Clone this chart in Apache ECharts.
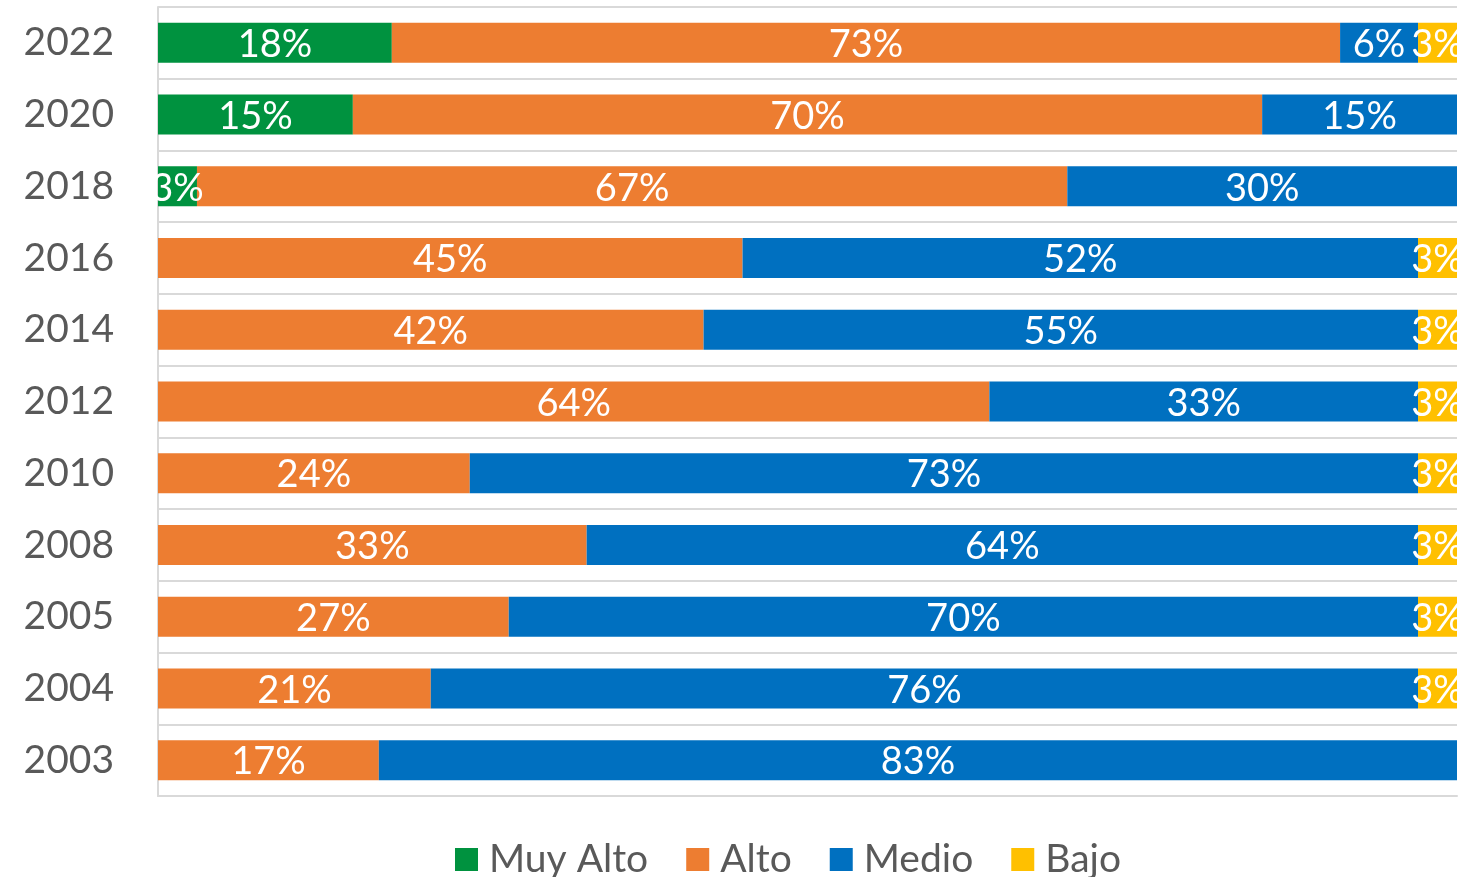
<!DOCTYPE html>
<html>
<head>
<meta charset="utf-8">
<title>Niveles por año</title>
<script src="https://cdn.jsdelivr.net/npm/echarts@6/dist/echarts.min.js"></script>
<style>
    html, body { margin: 0; padding: 0; background: #ffffff; }
    #chart { width: 1473px; height: 877px; }
</style>
</head>
<body>
<div id="chart"></div>
<script>
// Years, bottom to top
const years = ['2003', '2004', '2005', '2008', '2010', '2012', '2014', '2016', '2018', '2020', '2022'];

// Share per level (%), same order as years
const muyAlto = [0, 0, 0, 0, 0, 0, 0, 0, 3, 15, 18];
const alto    = [17, 21, 27, 33, 24, 64, 42, 45, 67, 70, 73];
const medio   = [83, 76, 70, 64, 73, 33, 55, 52, 30, 15, 6];
const bajo    = [0, 3, 3, 3, 3, 3, 3, 3, 0, 0, 3];

const levelNames = ['Muy Alto', 'Alto', 'Medio', 'Bajo'];
const levelColors = ['#00923F', '#ED7D31', '#0070C0', '#FFC000'];

const FONT = 'Lato, "Open Sans", sans-serif';

function makeSeries(name, values, color) {
    return {
        name: name,
        type: 'bar',
        stack: 'total',
        barWidth: 40,
        data: values,
        itemStyle: { color: color },
        label: {
            show: true,
            position: 'inside',
            offset: [0, 2],
            color: '#ffffff',
            fontFamily: FONT,
            fontSize: 38,
            formatter: p => (p.value ? p.value + '%' : '')
        }
    };
}

const chart = echarts.init(document.getElementById('chart'));

const option = {
    backgroundColor: '#ffffff',
    animation: false,
    grid: { left: 158, right: 16, top: 7, bottom: 81 },
    legend: {
        data: levelNames,
        left: 450,
        top: 835,
        icon: 'rect',
        itemWidth: 23,
        itemHeight: 23,
        itemGap: 38,
        textStyle: {
            color: '#595959',
            fontFamily: FONT,
            fontSize: 39,
            padding: [0, 0, 0, 6]
        }
    },
    xAxis: {
        type: 'value',
        min: 0,
        max: 100,
        axisLabel: { show: false },
        axisTick: { show: false },
        axisLine: { show: true, lineStyle: { color: '#D9D9D9', width: 2 } },
        splitLine: { show: false }
    },
    yAxis: {
        type: 'category',
        data: years,
        axisTick: { show: false },
        axisLine: { show: true, lineStyle: { color: '#D9D9D9', width: 2 } },
        axisLabel: {
            color: '#595959',
            fontFamily: FONT,
            fontSize: 39,
            margin: 44
        },
        splitLine: { show: true, lineStyle: { color: '#D9D9D9', width: 2 } }
    },
    series: [
        makeSeries(levelNames[0], muyAlto, levelColors[0]),
        makeSeries(levelNames[1], alto, levelColors[1]),
        makeSeries(levelNames[2], medio, levelColors[2]),
        makeSeries(levelNames[3], bajo, levelColors[3])
    ],
    // labels that spill past the plot edge are cut off in the original
    graphic: [
        { type: 'rect', right: 0, top: 0, z: 100, shape: { width: 15, height: 800 }, style: { fill: '#ffffff' } }
    ]
};

chart.setOption(option);
</script>
</body>
</html>
